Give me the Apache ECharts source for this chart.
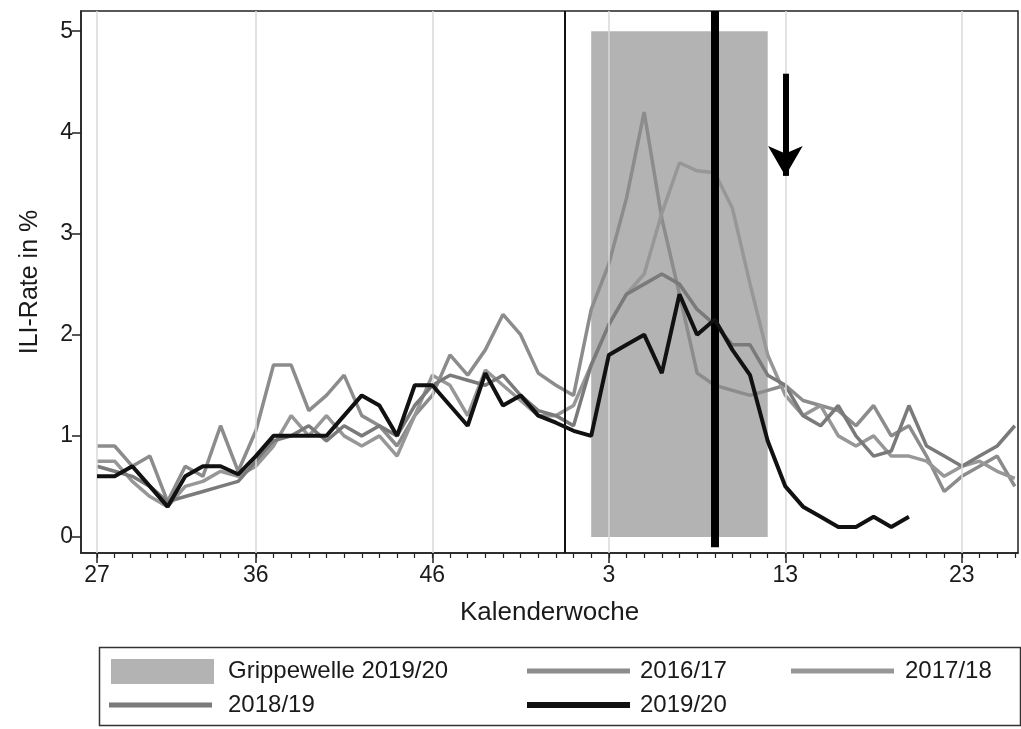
<!DOCTYPE html>
<html>
<head>
<meta charset="utf-8">
<script src="https://cdn.jsdelivr.net/npm/echarts@6/dist/echarts.min.js"></script>
<style>html,body{margin:0;padding:0;background:#fff}#chart{width:1021px;height:729px}</style>
</head>
<body>
<div id="chart"></div>
<script>
// Calendar weeks along the x axis (index 0 = KW 27 ... index 52 = KW 26)
const weeks = [27,28,29,30,31,32,33,34,35,36,37,38,39,40,41,42,43,44,45,46,47,48,49,50,51,52,53,
               1,2,3,4,5,6,7,8,9,10,11,12,13,14,15,16,17,18,19,20,21,22,23,24,25,26];
const majorWeekLabels = [27,36,46,3,13,23];
const yTicks = [0,1,2,3,4,5];

// ILI rate in % per season
const s2016 = [0.9,0.9,0.7,0.8,0.35,0.7,0.6,1.1,0.65,1.05,1.7,1.7,1.25,1.4,1.6,1.2,1.1,0.9,1.2,1.4,1.8,1.6,1.85,2.2,2.0,1.62,1.5,1.4,
               2.25,2.7,3.35,4.2,3.15,2.4,1.62,1.5,1.45,1.4,1.45,1.5,1.35,1.3,1.25,1.1,1.3,1.0,1.1,0.8,0.45,0.6,0.7,0.8,0.5];
const s2017 = [0.75,0.75,0.55,0.4,0.3,0.5,0.55,0.65,0.6,0.7,0.9,1.2,1.0,1.2,1.0,0.9,1.0,0.8,1.2,1.6,1.5,1.2,1.65,1.5,1.35,1.2,1.2,1.3,
               1.7,2.1,2.4,2.6,3.2,3.7,3.62,3.6,3.25,2.5,1.8,1.4,1.2,1.3,1.0,0.9,1.0,0.8,0.8,0.75,0.6,0.7,0.75,0.65,0.58];
const s2018 = [0.7,0.65,0.6,0.5,0.35,0.4,0.45,0.5,0.55,0.75,0.95,1.0,1.1,0.95,1.1,1.0,1.1,1.0,1.3,1.5,1.6,1.55,1.5,1.6,1.4,1.25,1.2,1.1,
               1.7,2.1,2.4,2.5,2.6,2.5,2.25,2.1,1.9,1.9,1.6,1.5,1.2,1.1,1.3,1.0,0.8,0.85,1.3,0.9,0.8,0.7,0.8,0.9,1.1];
const s2019 = [0.6,0.6,0.7,0.5,0.3,0.6,0.7,0.7,0.62,0.8,1.0,1.0,1.0,1.0,1.2,1.4,1.3,1.0,1.5,1.5,1.3,1.1,1.62,1.3,1.4,1.2,1.13,1.05,
               1.0,1.8,1.9,2.0,1.62,2.4,2.0,2.15,1.85,1.6,0.95,0.5,0.3,0.2,0.1,0.1,0.2,0.1,0.2];

// Annotations (in week-index / rate units)
const fluWave = [28, 38];         // Grippewelle 2019/20: KW 2 to KW 12
const fluWaveTop = 5;
const yearBreak = 26.5;           // thin vertical line
const markedWeek = 35;            // thick vertical line (KW 9)
const arrowWeek = 39;             // arrow at KW 13
const arrowFromTo = [4.58, 3.57];

const idx = weeks.map((w,i)=>i);
const majorIdx = majorWeekLabels.map(w => weeks.indexOf(w));
const toPairs = arr => arr.map((v,i)=>[i,v]);

const FONT = 'Liberation Sans';
const TXT = '#1a1a1a';
const X_MIN = -0.906, X_MAX = 52.18, Y_MIN = -0.158, Y_MAX = 5.2;

const chart = echarts.init(document.getElementById('chart'), null, {renderer:'canvas'});

const lineSeries = (name, data, color, width, z) => ({
  name, type:'line', data: toPairs(data), symbol:'none', showSymbol:false, z,
  lineStyle:{color, width}, itemStyle:{color}, animation:false
});

const solid = (color, width) => ({color, width, type:'solid'});

const option = {
  animation:false,
  grid:{left:81, top:11, right:3, bottom:176, show:true, borderColor:'#222', borderWidth:1.5, backgroundColor:'transparent'},
  xAxis:[{
    type:'value', min:X_MIN, max:X_MAX,
    axisLine:{show:true, onZero:false, lineStyle:{color:'#222', width:1.5}},
    axisTick:{show:true, customValues:majorIdx, length:10, lineStyle:{color:'#222', width:1.5}},
    axisLabel:{show:true, customValues:majorIdx, formatter:v=>String(weeks[Math.round(v)]), color:TXT, fontFamily:FONT, fontSize:23, margin:11},
    splitLine:{show:false},
    name:'Kalenderwoche', nameLocation:'middle', nameGap:47,
    nameTextStyle:{color:TXT, fontFamily:FONT, fontSize:26}
  },{
    type:'value', min:X_MIN, max:X_MAX, position:'bottom',
    axisLine:{show:false, onZero:false},
    axisTick:{show:true, customValues:idx, length:5, lineStyle:{color:'#222', width:1.2}},
    axisLabel:{show:false}, splitLine:{show:false}
  }],
  yAxis:{
    type:'value', min:Y_MIN, max:Y_MAX,
    axisLine:{show:true, onZero:false, lineStyle:{color:'#222', width:1.5}},
    axisTick:{show:true, customValues:yTicks, length:9, lineStyle:{color:'#222', width:1.5}},
    axisLabel:{show:true, customValues:yTicks, color:TXT, fontFamily:FONT, fontSize:23, margin:8},
    splitLine:{show:false},
    name:'ILI-Rate in %', nameLocation:'middle', nameGap:38,
    nameTextStyle:{color:TXT, fontFamily:FONT, fontSize:25}
  },
  legend:[
    {data:['Grippewelle 2019/20'], left:106, top:654, itemHeight:25, gapText:9},
    {data:['2016/17'], left:522, top:654, itemHeight:5, gapText:5},
    {data:['2017/18'], left:786, top:654, itemHeight:5, gapText:6},
    {data:['2018/19'], left:104, top:688, itemHeight:5, gapText:11},
    {data:['2019/20'], left:522, top:688, itemHeight:6, gapText:5}
  ].map(l => ({
    data:l.data, left:l.left, top:l.top,
    orient:'horizontal', itemWidth:103, itemHeight:l.itemHeight, icon:'rect', selectedMode:false,
    textStyle:{color:TXT, fontFamily:FONT, fontSize:24, padding:[0,0,0,l.gapText]}
  })),
  graphic:[{type:'rect', left:97, top:645, shape:{width:921, height:78}, style:{fill:'none', stroke:'#333', lineWidth:1.5}, silent:true}],
  series:[
    {
      name:'gridlines', type:'line', data:[], z:0, silent:true,
      markLine:{silent:true, symbol:'none', label:{show:false},
        lineStyle:solid('#d9d9d9', 1.5),
        data: majorIdx.map(i=>({xAxis:i}))}
    },
    {
      name:'Grippewelle 2019/20', type:'line', data:[], z:1, silent:true,
      itemStyle:{color:'#b3b3b3'}, lineStyle:{color:'#b3b3b3'},
      markArea:{silent:true, itemStyle:{color:'#b3b3b3', opacity:1},
        data:[[{xAxis:fluWave[0], yAxis:0},{xAxis:fluWave[1], yAxis:fluWaveTop}]]}
    },
    lineSeries('2016/17', s2016, '#8c8c8c', 3.5, 3),
    lineSeries('2017/18', s2017, '#979797', 3.5, 3),
    lineSeries('2018/19', s2018, '#7a7a7a', 3.5, 3),
    lineSeries('2019/20', s2019, '#111111', 4, 5),
    {
      name:'annotations', type:'line', data:[], z:6, silent:true,
      markLine:{silent:true, symbol:'none', label:{show:false},
        lineStyle:solid('#000', 2),
        data:[
          [{coord:[yearBreak,Y_MIN], lineStyle:solid('#111', 2)}, {coord:[yearBreak,Y_MAX]}],
          [{coord:[markedWeek,-0.1], lineStyle:solid('#000', 8)}, {coord:[markedWeek,Y_MAX]}],
          [{coord:[arrowWeek,arrowFromTo[0]], symbol:'none', lineStyle:solid('#000', 6)},
           {coord:[arrowWeek,arrowFromTo[1]], symbol:'arrow', symbolSize:[26,30]}]
        ]}
    }
  ]
};
chart.setOption(option);
</script>
</body>
</html>
